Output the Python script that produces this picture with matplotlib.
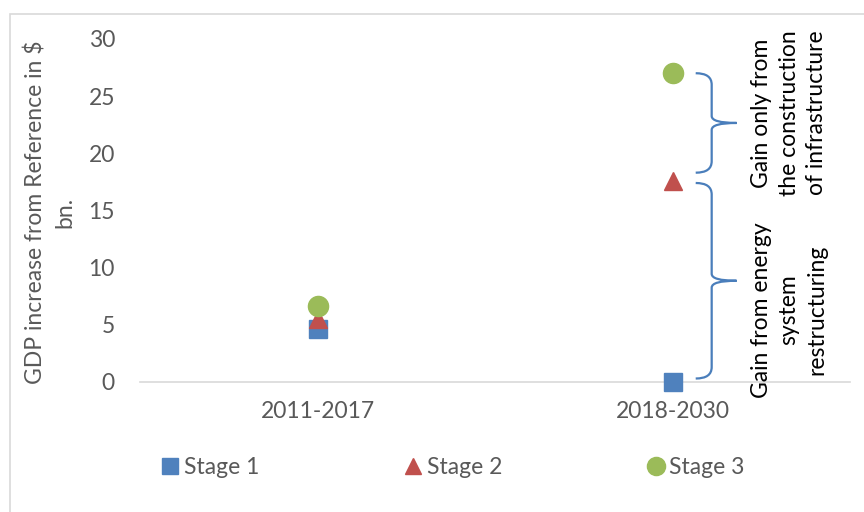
import matplotlib
matplotlib.use("Agg")
import matplotlib.pyplot as plt
from matplotlib.path import Path
from matplotlib.patches import PathPatch, Rectangle

plt.rcParams['font.family'] = ['Lato', 'DejaVu Sans']

# data
periods = ['2011-2017', '2018-2030']
stage1 = [4.6, 0.0]
stage2 = [5.5, 17.6]
stage3 = [6.6, 27.0]
ylabel = 'GDP increase from Reference in $\nbn.'
note_top = 'Gain only from\nthe construction\nof infrastructure'
note_bottom = 'Gain from energy\nsystem\nrestructuring'

grey = '#595959'
c1, c2, c3 = '#4f81bd', '#c0504d', '#9bbb59'
brace_col = '#4a7ebb'

fig = plt.figure(figsize=(8.64, 5.12), dpi=100)
# light outer frame like the Excel chart area
fig.patches.append(Rectangle((10/864, -0.05), 1.0, 1 - 14/512 + 0.05,
                             transform=fig.transFigure, fill=False,
                             edgecolor='#d9d9d9', lw=1.2))

ax = fig.add_axes([0.162, 0.254, 0.822, 0.670])
x = list(range(len(periods)))
ax.plot(x, stage1, ls='none', marker='s', ms=13.5, color=c1, label='Stage 1',
        clip_on=False, zorder=3)
ax.plot(x, stage2, ls='none', marker='^', ms=13.5, color=c2, label='Stage 2',
        clip_on=False, zorder=3)
ax.plot(x, stage3, ls='none', marker='o', ms=14.5, color=c3, label='Stage 3',
        clip_on=False, zorder=3)

ax.set_xlim(-0.5, 1.5)
ax.set_ylim(0, 30)
ax.set_yticks([0, 5, 10, 15, 20, 25, 30])
ax.set_xticks(x)
ax.set_xticklabels(periods)
for s in ['top', 'right', 'left']:
    ax.spines[s].set_visible(False)
ax.spines['bottom'].set_color('#d9d9d9')
ax.spines['bottom'].set_linewidth(1.2)
ax.tick_params(axis='both', length=0, labelsize=16.5, labelcolor=grey)
ax.tick_params(axis='y', pad=18)
ax.tick_params(axis='x', pad=14)

fig.text(50/864, 1 - 212/512, ylabel, rotation=90, ha='center', va='center',
         multialignment='center', fontsize=16.5, color=grey, linespacing=1.45)


def brace(ax, xpos, y_bot, y_top):
    # curly brace in data units, pointing right
    x0, x1, x2 = xpos + 0.065, xpos + 0.11, xpos + 0.18
    r = 1.0
    ym = (y_bot + y_top) / 2
    verts = [(x0, y_top), (x1, y_top), (x1, y_top - r),
             (x1, ym + r * 0.6), (x1, ym), (x2, ym),
             (x1, ym), (x1, ym - r * 0.6),
             (x1, y_bot + r), (x1, y_bot), (x0, y_bot)]
    codes = [Path.MOVETO, Path.CURVE3, Path.CURVE3,
             Path.LINETO, Path.CURVE3, Path.CURVE3,
             Path.CURVE3, Path.CURVE3,
             Path.LINETO, Path.CURVE3, Path.CURVE3]
    ax.add_patch(PathPatch(Path(verts, codes), fill=False, edgecolor=brace_col,
                           lw=1.6, clip_on=False))


brace(ax, x[1], stage2[1] + 0.7, stage3[1])
brace(ax, x[1], stage1[1] + 0.3, stage2[1] - 0.2)

fig.text(789/864, 1 - 113/512, note_top, rotation=90, ha='center', va='center',
         multialignment='center', fontsize=16.5, color='black', linespacing=1.4)
fig.text(789/864, 1 - 310/512, note_bottom, rotation=90, ha='center', va='center',
         multialignment='center', fontsize=16.5, color='black', linespacing=1.4)

fig.legend(loc='center', bbox_to_anchor=(0.523, 0.086), ncol=3, frameon=False,
           fontsize=16.5, labelcolor=grey, handletextpad=0.1, columnspacing=6.2,
           handlelength=1.0, markerscale=0.9)

fig.savefig('out.png', dpi=100)
